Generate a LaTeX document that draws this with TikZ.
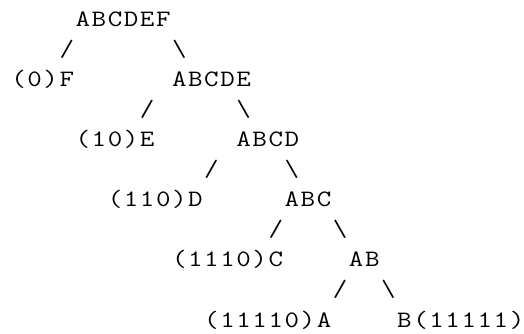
\documentclass[tikz,border=0pt]{standalone}
\usepackage{fontspec}
\usepackage{graphicx}
\newlength{\cellw}
\setlength{\cellw}{16.08pt}
\def\monoloop#1{\ifx#1\relax\else\makebox[\cellw][c]{\scalebox{1.2}[1]{#1}}\expandafter\monoloop\fi}
\newcommand{\mono}[1]{\monoloop#1\relax}
\begin{document}
\begin{tikzpicture}[x=16.08pt,y=30.1pt,
  lbl/.style={anchor=base west,inner sep=0pt,outer sep=0pt,
    font=\ttfamily\fontsize{23.5}{30}\selectfont,text=black}]
\useasboundingbox (-10.5pt,26pt) rectangle (513.5pt,-307pt);
% row 0
\node[lbl] (abcdef) at (4,0) {\mono{ABCDEF}};
% row 1
\node[lbl] (s1l) at (3,-1) {\mono{/}};
\node[lbl] (s1r) at (10,-1) {\mono{\textbackslash}};
% row 2
\node[lbl] (f) at (0,-2) {\mono{(0)F}};
\node[lbl] (abcde) at (10,-2) {\mono{ABCDE}};
% row 3
\node[lbl] (s3l) at (8,-3) {\mono{/}};
\node[lbl] (s3r) at (14,-3) {\mono{\textbackslash}};
% row 4
\node[lbl] (e) at (4,-4) {\mono{(10)E}};
\node[lbl] (abcd) at (14,-4) {\mono{ABCD}};
% row 5
\node[lbl] (s5l) at (12,-5) {\mono{/}};
\node[lbl] (s5r) at (17,-5) {\mono{\textbackslash}};
% row 6
\node[lbl] (d) at (6,-6) {\mono{(110)D}};
\node[lbl] (abc) at (17,-6) {\mono{ABC}};
% row 7
\node[lbl] (s7l) at (16,-7) {\mono{/}};
\node[lbl] (s7r) at (20,-7) {\mono{\textbackslash}};
% row 8
\node[lbl] (c) at (10,-8) {\mono{(1110)C}};
\node[lbl] (ab) at (21,-8) {\mono{AB}};
% row 9
\node[lbl] (s9l) at (20,-9) {\mono{/}};
\node[lbl] (s9r) at (23,-9) {\mono{\textbackslash}};
% row 10
\node[lbl] (a) at (12,-10) {\mono{(11110)A}};
\node[lbl] (b) at (24,-10) {\mono{B(11111)}};
\end{tikzpicture}
\end{document}
